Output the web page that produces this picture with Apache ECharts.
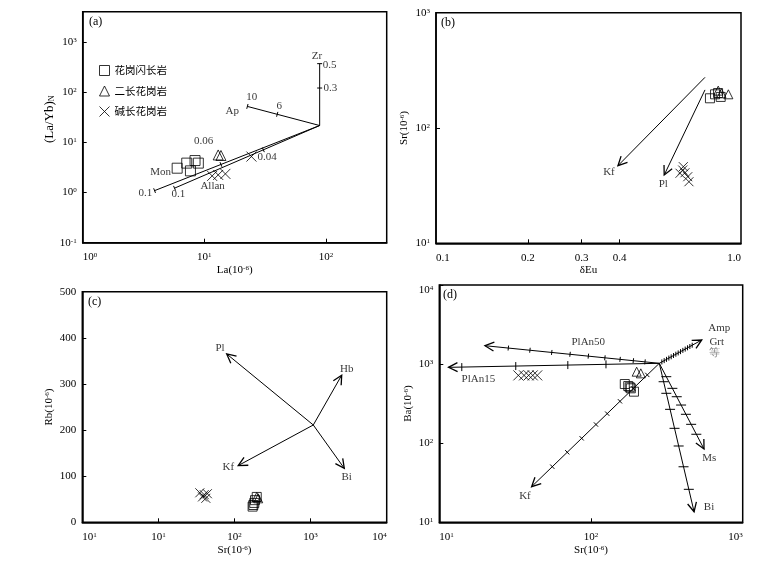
<!DOCTYPE html>
<html>
<head>
<meta charset="utf-8">
<script src="https://cdn.jsdelivr.net/npm/echarts@6/dist/echarts.min.js"></script>
<style>
  html, body { margin: 0; background: #fff; }
  #chart { width: 780px; height: 567px; }
</style>
</head>
<body>
<div id="chart"></div>
<script>
const NAMES = ['花岗闪长岩', '二长花岗岩', '碱长花岗岩'];

// (a) La - (La/Yb)N
const aSquare = [[5.98, 3.05], [7.17, 3.85], [7.69, 2.70], [8.39, 4.33], [8.93, 3.85]];
const aTriangle = [[13.0, 5.6], [13.7, 5.46]];
const aCross = [[11.6, 2.14], [13.0, 2.24], [14.9, 2.35], [24.4, 5.2]];
// x0, y0, x1, y1 : Zr, Ap, Mon, Allan
const aVectors = [[88.8, 21.6, 88.8, 369], [88.8, 21.6, 22.6, 51.9], [88.8, 21.6, 3.90, 1.09], [88.8, 21.6, 5.69, 1.22]];
const aTicks = [[0.606, 1], [0.587, 1], [0.598, 1], [0.388, 1]];
const aText = [['Zr', 84.4, 533], ['0.5', 107, 352], ['0.3', 109, 121], ['Ap', 17.0, 41.2], ['10', 24.5, 79.8],
  ['6', 41.3, 51.9], ['0.06', 9.85, 10.7], ['Mon', 4.37, 2.54], ['0.1', 3.27, 0.995], ['0.1', 6.13, 0.925],
  ['Allan', 11.7, 1.37], ['0.04', 32.9, 4.97]];

// (b) δEu - Sr
const bSquare = [[0.791, 181], [0.822, 196], [0.858, 186], [0.841, 201]];
const bTriangle = [[0.842, 211], [0.909, 196], [0.863, 200]];
const bCross = [[0.647, 46.2], [0.631, 40.5], [0.655, 40.9], [0.669, 37.8], [0.675, 34.2], [0.644, 43.2]];
const bVectors = [[0.762, 275, 0.395, 47.1], [0.762, 214, 0.560, 39.1]];   // Kf, Pl
const bText = [['Kf', 0.369, 41.8], ['Pl', 0.556, 32.7]];
const bLabelVals = [0.1, 0.2, 0.3, 0.4, 1.0];
const bTickVals = [0.2, 0.3, 0.4];

// (c) Sr - Rb
const cSquare = [[177, 37.5], [186, 48], [196, 55], [173, 34], [182, 42]];
const cTriangle = [[205, 52], [196, 55]];
const cCross = [[35, 64], [40, 60], [38, 55], [44, 62], [42, 52]];
const cVectors = [[1085, 211, 79, 365], [1085, 211, 2563, 319], [1085, 211, 112, 123], [1085, 211, 2772, 117]]; // Pl, Hb, Kf, Bi
const cText = [['Pl', 64.5, 377], ['Hb', 2981, 332], ['Kf', 82.9, 120.6], ['Bi', 2981, 97.6]];

// (d) Sr - Ba
const dSquare = [[167, 560], [176, 528], [183, 494], [192, 448], [180, 510]];
const dTriangle = [[200, 802], [213, 764]];
const dCross = [[33.2, 720], [36.2, 720], [38.8, 720], [41.3, 720], [44.2, 720]];
// PlAn50, PlAn15, Amp, Kf, Ms, Bi
const dVectors = [[282, 1023, 20.0, 1709], [282, 1023, 11.5, 910], [282, 1023, 537, 2018],
  [282, 1023, 40.6, 28.2], [282, 1023, 556, 84.5], [282, 1023, 478, 13.6]];
const dTicks = [
  [0.082, 0.149, 0.225, 0.312, 0.407, 0.512, 0.617, 0.742, 0.866],
  [0.253, 0.434, 0.681, 0.937],
  [0.06, 0.115, 0.17, 0.225, 0.28, 0.335, 0.39, 0.445, 0.5, 0.555, 0.61, 0.665, 0.72, 0.775],
  [0.094, 0.204, 0.308, 0.408, 0.496, 0.608, 0.721, 0.838],
  [0.156, 0.292, 0.39, 0.487, 0.595, 0.712, 0.828],
  [0.124, 0.202, 0.31, 0.438, 0.557, 0.697, 0.849]
];
const dText = [['PlAn50', 96, 1919], ['PlAn15', 18.1, 648], ['Amp', 701, 2836], ['Grt', 674, 1919],
  ['等', 648, 1393, '#666'], ['Kf', 36.7, 21.5], ['Ms', 602, 64.4], ['Bi', 600, 15.7]];

const font = 'Liberation Serif';
const rich = {
  s: { fontSize: 7, fontFamily: font, verticalAlign: 'top', color: '#000' },
  n: { fontSize: 8, fontFamily: font, verticalAlign: 'bottom', color: '#000' }
};
const crossPath = 'path://M0,0L10,10M10,0L0,10';

function pow10Label(v, firstAs) {
  const l = Math.log10(v), e = Math.round(l);
  if (Math.abs(l - e) > 1e-6) return '';
  if (firstAs !== undefined && e === firstAs[0]) return '10{s|' + firstAs[1] + '}';
  return '10{s|' + e + '}';
}

function baseAxis(grid, extra) {
  return Object.assign({
    gridIndex: grid,
    nameLocation: 'middle',
    nameTextStyle: { fontFamily: font, fontSize: 11, color: '#000', rich },
    axisLine: { onZero: false, lineStyle: { color: '#000', width: 1.5 } },
    axisTick: { inside: true, length: 4, lineStyle: { color: '#000' } },
    axisLabel: { fontFamily: font, fontSize: 11, color: '#000', rich },
    splitLine: { show: false },
    minorTick: { show: false }
  }, extra);
}

function symbolSeries(idx, data, k, size) {
  const sym = ['rect', 'triangle', crossPath][k];
  return {
    type: 'scatter', name: NAMES[k], xAxisIndex: idx, yAxisIndex: idx,
    symbol: sym, symbolSize: size, data,
    itemStyle: { color: 'rgba(0,0,0,0)', borderColor: '#000', borderWidth: 1 },
    z: 4
  };
}

function textSeries(idx, items) {
  return {
    type: 'scatter', xAxisIndex: idx, yAxisIndex: idx, symbolSize: 1, silent: true, z: 6,
    itemStyle: { color: 'rgba(0,0,0,0)' },
    data: items.map(t => ({ name: t[0], value: [t[1], t[2]], label: t[3] ? { color: t[3] } : undefined })),
    label: { show: true, position: 'inside', formatter: '{b}', color: '#000', fontFamily: font, fontSize: 11 }
  };
}

// vector lines with optional arrow head and tick marks
function vectorSeries(idx, vectors, meta) {
  return {
    type: 'custom', xAxisIndex: idx, yAxisIndex: idx, silent: true, z: 3,
    data: vectors,
    encode: { x: [0, 2], y: [1, 3] },
    renderItem(params, api) {
      const m = meta[params.dataIndex];
      const a = api.coord([api.value(0), api.value(1)]);
      const b = api.coord([api.value(2), api.value(3)]);
      const dx = b[0] - a[0], dy = b[1] - a[1];
      const L = Math.hypot(dx, dy), ux = dx / L, uy = dy / L;
      const st = { stroke: '#000', lineWidth: 1, fill: null };
      const kids = [{ type: 'line', shape: { x1: a[0], y1: a[1], x2: b[0], y2: b[1] }, style: st }];
      if (m.arrow) {
        const s = 9, w = 4.5;
        kids.push({ type: 'polyline', shape: { points: [
          [b[0] - ux * s - uy * w, b[1] - uy * s + ux * w], [b[0], b[1]],
          [b[0] - ux * s + uy * w, b[1] - uy * s - ux * w]] }, style: { stroke: '#000', lineWidth: 1.3, fill: null } });
      }
      let px = -uy, py = ux;
      if (m.dir === 'h') { px = 1; py = 0; }
      if (m.dir === 'v') { px = 0; py = 1; }
      (m.f || []).forEach(f => {
        const cx = a[0] + dx * f, cy = a[1] + dy * f;
        kids.push({ type: 'line', shape: { x1: cx - px * m.h, y1: cy - py * m.h, x2: cx + px * m.h, y2: cy + py * m.h }, style: st });
      });
      return { type: 'group', children: kids };
    }
  };
}

const grids = [
  { left: 82.7, top: 11.7, width: 304, height: 231 },
  { left: 436, top: 12.7, width: 305, height: 230.6 },
  { left: 82.3, top: 291.7, width: 304.4, height: 230.6 },
  { left: 439.3, top: 285, width: 303.4, height: 237.3 }
].map(g => Object.assign(g, { show: true, borderColor: '#000', borderWidth: 1.5 }));

const xAxes = [
  baseAxis(0, { type: 'log', min: 1, max: 316, name: 'La(10{s|-6})', nameGap: 22,
    axisLabel: Object.assign(baseAxis(0).axisLabel, { formatter: v => pow10Label(v), alignMinLabel: 'left', margin: 9 }) }),
  baseAxis(1, { type: 'log', min: 0.1, max: 1, name: 'δEu', nameGap: 21, position: 'bottom',
    axisLabel: { show: false }, axisTick: { show: false } }),
  baseAxis(2, { type: 'log', min: 1, max: 10000, name: 'Sr(10{s|-6})', nameGap: 22,
    axisLabel: Object.assign(baseAxis(2).axisLabel, { formatter: v => pow10Label(v, [0, 1]), alignMinLabel: 'left', alignMaxLabel: 'right', margin: 9 }) }),
  baseAxis(3, { type: 'log', min: 10, max: 1000, name: 'Sr(10{s|-6})', nameGap: 22,
    axisLabel: Object.assign(baseAxis(3).axisLabel, { formatter: v => pow10Label(v), alignMinLabel: 'left', alignMaxLabel: 'right', margin: 9 }) }),
  // label axis for (b): positions of the log axis written on a value axis
  baseAxis(1, { type: 'value', min: -1, max: 0, position: 'bottom', axisLine: { show: false, onZero: false },
    axisTick: { inside: true, length: 4, lineStyle: { color: '#000' }, customValues: bTickVals.map(Math.log10) },
    axisLabel: Object.assign(baseAxis(1).axisLabel, { customValues: bLabelVals.map(Math.log10),
      formatter: v => Math.pow(10, v).toFixed(1), alignMinLabel: 'left', alignMaxLabel: 'right', margin: 9 }) })
];

const yAxes = [
  baseAxis(0, { type: 'log', min: 0.1, max: 4000, name: '(La/Yb){n|N}', nameGap: 27,
    nameTextStyle: { fontFamily: font, fontSize: 13, color: '#000', rich, padding: [0, 0, 0, 16] },
    axisLabel: Object.assign(baseAxis(0).axisLabel, { formatter: v => pow10Label(v), margin: 6 }) }),
  baseAxis(1, { type: 'log', min: 10, max: 1000, name: 'Sr(10{s|-6})', nameGap: 26,
    axisLabel: Object.assign(baseAxis(1).axisLabel, { formatter: v => pow10Label(v), margin: 6 }) }),
  baseAxis(2, { type: 'value', min: 0, max: 500, interval: 100, name: 'Rb(10{s|-6})', nameGap: 28,
    axisLabel: Object.assign(baseAxis(2).axisLabel, { margin: 6 }) }),
  baseAxis(3, { type: 'log', min: 10, max: 10000, name: 'Ba(10{s|-6})', nameGap: 26,
    axisLabel: Object.assign(baseAxis(3).axisLabel, { formatter: v => pow10Label(v), margin: 6, verticalAlignMaxLabel: 'top' }) })
];

const aMeta = aTicks.map(f => ({ f, dir: 'perp', h: 2.5, arrow: false }));
const bMeta = bVectors.map(() => ({ f: [], arrow: true }));
const cMeta = cVectors.map(() => ({ f: [], arrow: true }));
const dMeta = dTicks.map((f, i) => ({ f, arrow: true,
  dir: ['perp', 'v', 'v', 'perp', 'h', 'h'][i], h: [2.5, 4, 2.5, 3, 5, 5][i] }));

const series = [
  vectorSeries(0, aVectors, aMeta), textSeries(0, aText),
  symbolSeries(0, aSquare, 0, 10), symbolSeries(0, aTriangle, 1, 10), symbolSeries(0, aCross, 2, 10),
  vectorSeries(1, bVectors, bMeta), textSeries(1, bText),
  symbolSeries(1, bSquare, 0, 9), symbolSeries(1, bTriangle, 1, 9), symbolSeries(1, bCross, 2, 9),
  vectorSeries(2, cVectors, cMeta), textSeries(2, cText),
  symbolSeries(2, cSquare, 0, 9), symbolSeries(2, cTriangle, 1, 9), symbolSeries(2, cCross, 2, 9),
  vectorSeries(3, dVectors, dMeta), textSeries(3, dText),
  symbolSeries(3, dSquare, 0, 9), symbolSeries(3, dTriangle, 1, 9), symbolSeries(3, dCross, 2, 10)
];

const panelTags = [['(a)', 89, 16], ['(b)', 441, 17], ['(c)', 88, 296], ['(d)', 443, 289]];

const chart = echarts.init(document.getElementById('chart'), null, { renderer: 'canvas' });
chart.setOption({
  animation: false,
  backgroundColor: '#fff',
  grid: grids,
  xAxis: xAxes,
  yAxis: yAxes,
  legend: {
    data: NAMES, orient: 'vertical', left: 99, top: 65, padding: 0,
    itemWidth: 10, itemHeight: 10, itemGap: 9.5, selectedMode: false,
    itemStyle: { borderWidth: 1, borderColor: '#000', color: 'rgba(0,0,0,0)' },
    textStyle: { fontFamily: 'Noto Sans CJK SC', fontSize: 10.5, color: '#000' }
  },
  graphic: panelTags.map(t => ({ type: 'text', left: t[1], top: t[2],
    style: { text: t[0], font: '12px "Liberation Serif"', fill: '#000' } })),
  series
});
</script>
</body>
</html>
